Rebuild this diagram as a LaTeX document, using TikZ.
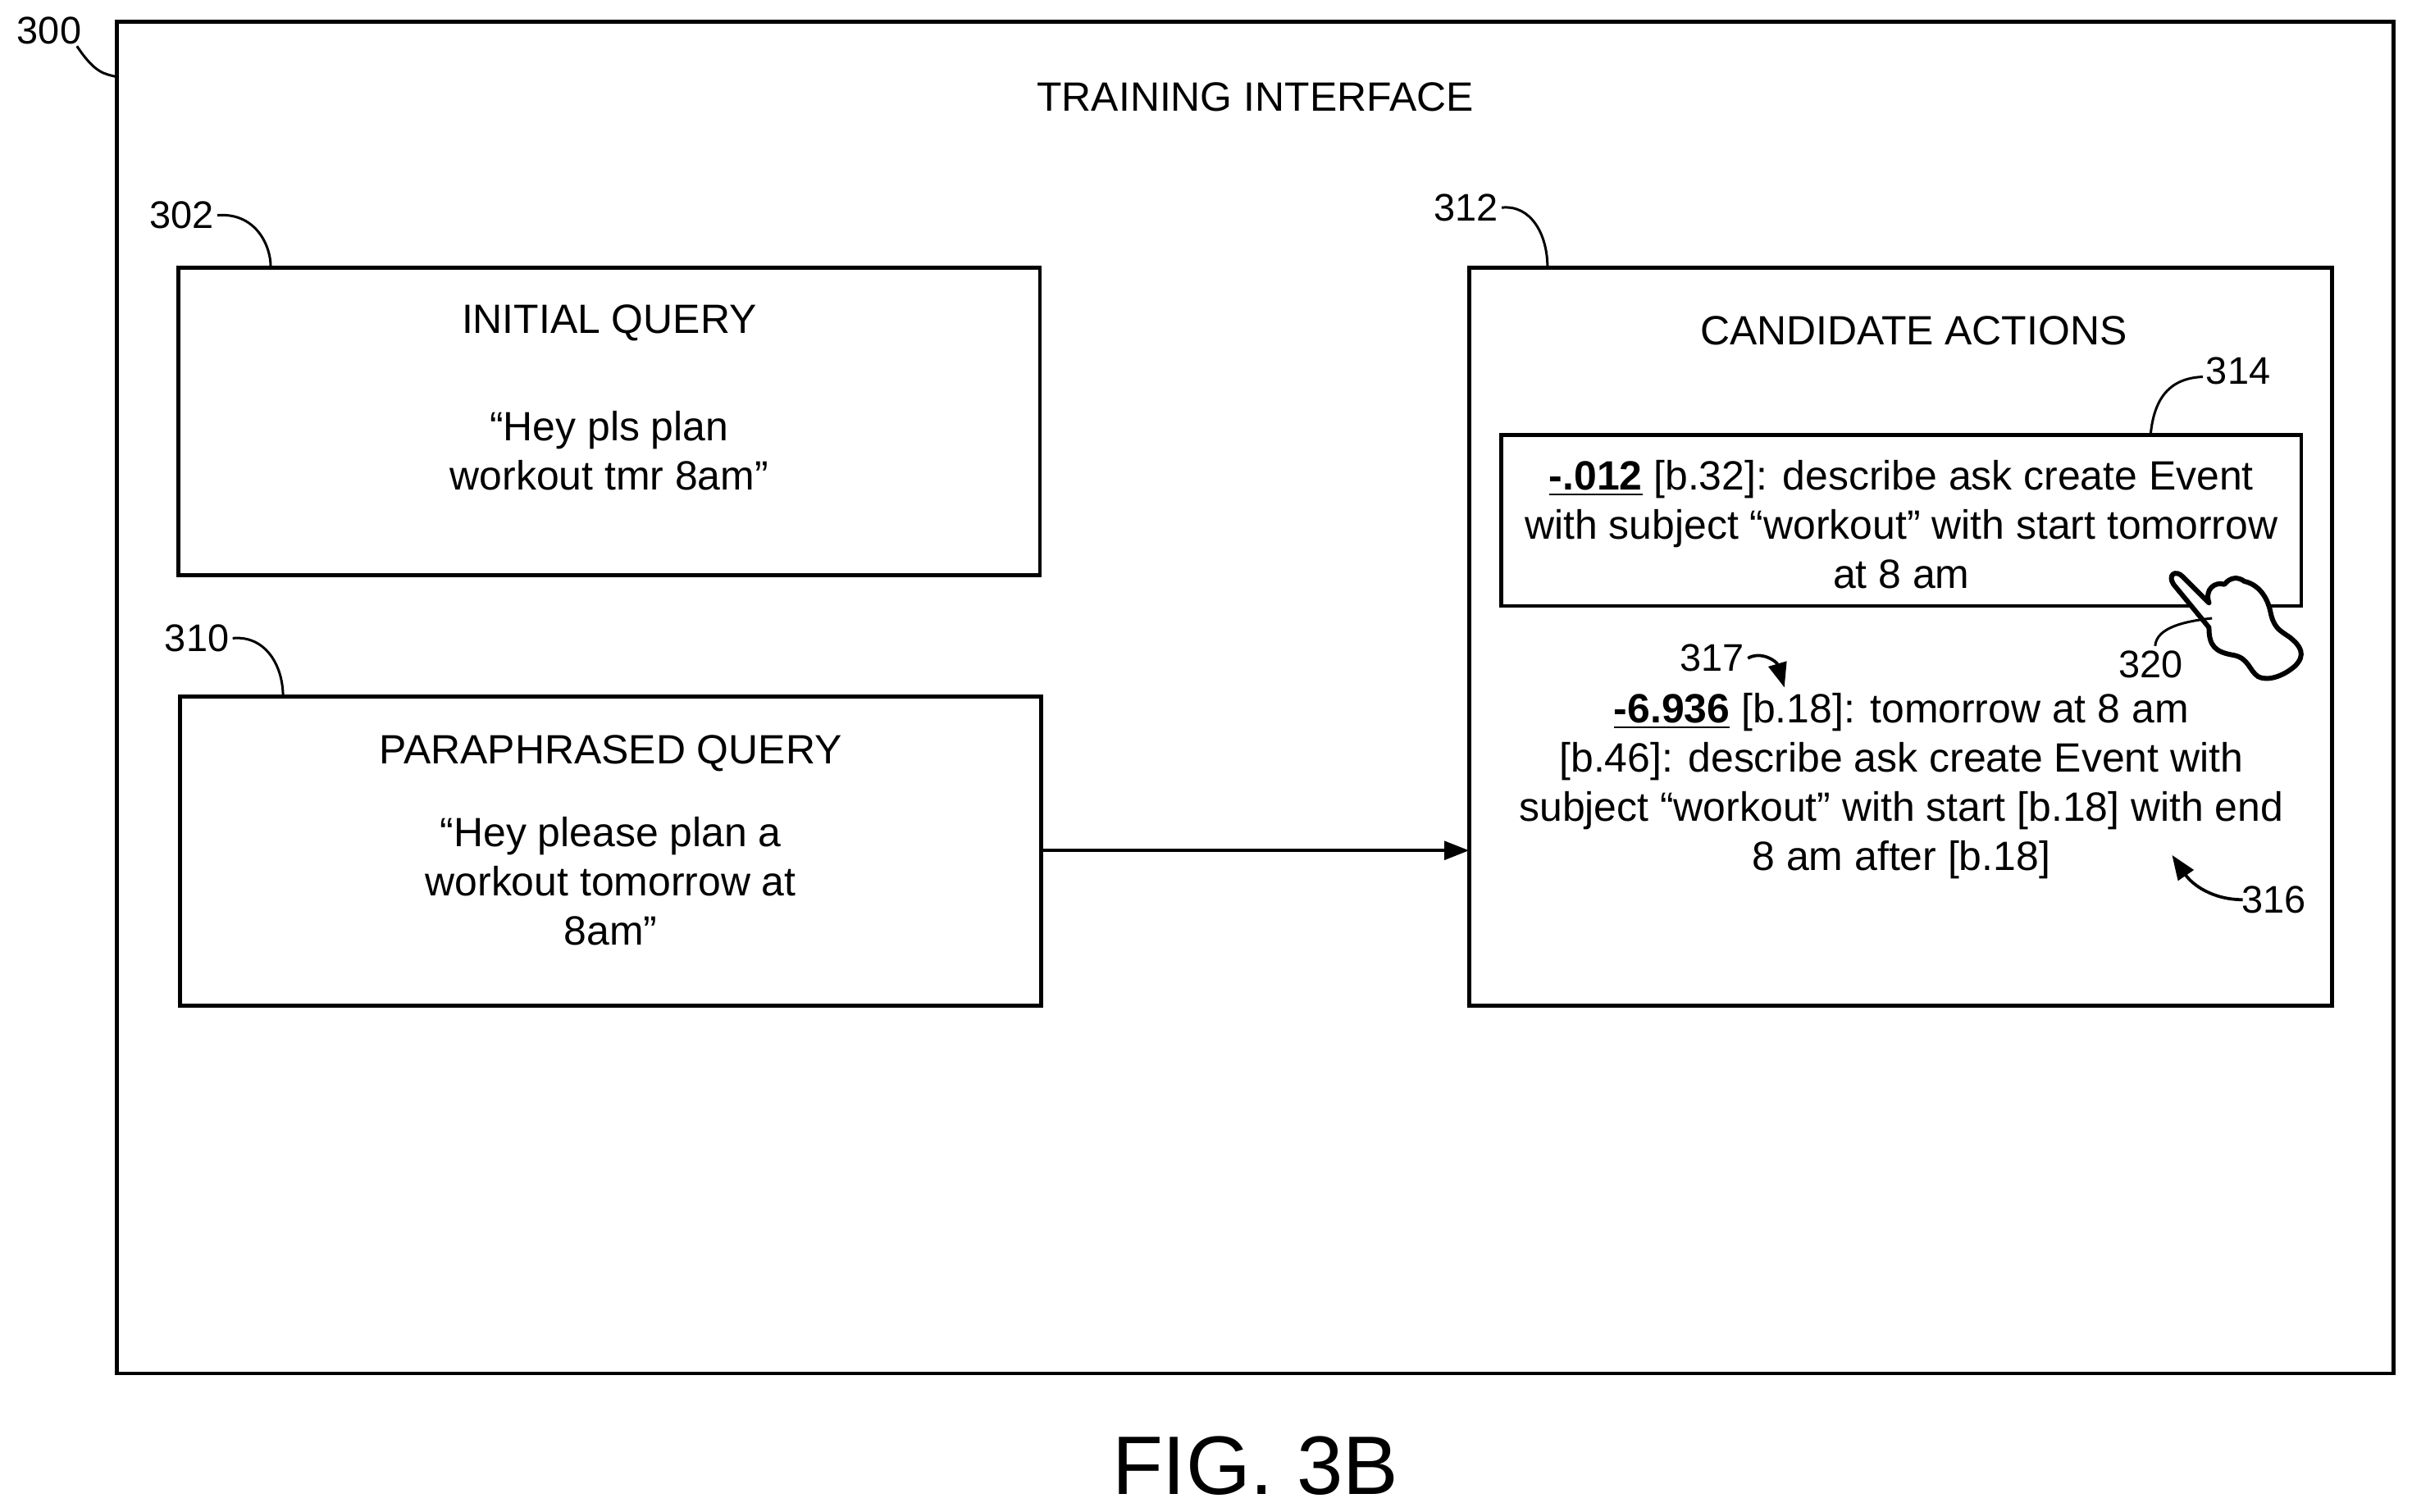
\documentclass[tikz,border=0pt]{standalone}
\usepackage{fontspec}
\setmainfont{Liberation Sans}
\usetikzlibrary{arrows.meta}
\begin{document}
\begin{tikzpicture}[x=0.5pt,y=-0.5pt,
  box/.style={draw,line width=1.3pt},
  txt/.style={font=\fontsize{13.3}{16}\selectfont,align=center,inner sep=0pt},
  lab/.style={font=\fontsize{12.5}{14}\selectfont,inner sep=1pt},
  lead/.style={line width=0.8pt},
  arr/.style={line width=1pt,-{Triangle[length=8pt,width=6pt]}}]
\useasboundingbox (0,0) rectangle (1568,983);
\draw[box] (76,14) rectangle (1556,893);
\node[txt] (title) at (816,63) {TRAINING INTERFACE};
\node[lab] (l300) at (32,20) {300};
\draw[lead] (50,30) .. controls (62,48) and (68,48) .. (76,50);
% initial query
\draw[box] (116,174) rectangle (676,374);
\coordinate (iqtop) at (176,174);
\node[txt] (iqt) at (396,210) {INITIAL QUERY};
\node[txt] (iqx) at (396,293) {“Hey pls plan\\workout tmr 8am”};
\node[lab] (l302) at (118,140) {302};
\draw[lead] (l302.east) .. controls (165,138) and (176,158) .. (iqtop);
% paraphrased
\draw[box] (117,453) rectangle (677,654);
\coordinate (pqtop) at (184,453);
\node[txt] (pqt) at (397,490) {PARAPHRASED QUERY};
\node[txt] (pqx) at (397,573) {“Hey please plan a\\workout tomorrow at\\8am”};
\node[lab] (l310) at (128,415) {310};
\draw[lead] (l310.east) .. controls (172,413) and (184,432) .. (pqtop);
% candidate
\draw[box] (955,174) rectangle (1516,654);
\coordinate (catop) at (1006,174);
\coordinate (pqr) at (677,553);
\coordinate (cal) at (955,553);
\draw[arr] (pqr) -- (cal);
\node[txt] (cat) at (1244,215) {CANDIDATE ACTIONS};
\node[lab] (l312) at (953,135) {312};
\draw[lead] (l312.east) .. controls (995,133) and (1006,152) .. (catop);
\draw[box] (976,283) rectangle (1496,394);
\coordinate (b314) at (1398,283);
\node[txt] (a1) at (1236,341) {\textbf{\underline{-.012}} [b.32]: describe ask create Event\\with subject “workout” with start tomorrow\\at 8 am};
\node[lab] (l314) at (1455,241) {314};
\draw[lead] (1432,245) .. controls (1408,246) and (1400,262) .. (b314);
\node[txt] (a2) at (1236,511) {\textbf{\underline{-6.936}} [b.18]: tomorrow at 8 am\\{[b.46]}: describe ask create Event with\\subject “workout” with start [b.18] with end\\8 am after [b.18]};
\node[lab] (l317) at (1113,428) {317};
\coordinate (t317) at (1160,447);
\draw[arr] (l317.east) .. controls (1145,423) and (1155,430) .. (t317);
\node[lab] (l316) at (1478,585) {316};
\coordinate (t316) at (1412,556);
\draw[arr] (1458,585) .. controls (1438,585) and (1425,575) .. (t316);
% hand
\draw[line width=1.6pt,fill=white,line join=round] (1436,408)
 -- (1413,380) .. controls (1409,374) and (1414,370) .. (1419,375)
 -- (1436,392) .. controls (1433,383) and (1440,378) .. (1446,380)
 .. controls (1450,375) and (1455,375) .. (1459,378)
 .. controls (1468,380) and (1474,388) .. (1476,398)
 .. controls (1478,408) and (1482,410) .. (1488,414)
 .. controls (1496,420) and (1499,426) .. (1492,433)
 .. controls (1484,440) and (1474,443) .. (1468,440)
 .. controls (1462,436) and (1462,428) .. (1452,426)
 .. controls (1440,424) and (1436,420) .. cycle;
\coordinate (hand) at (1438,402);
\node[lab] (l320) at (1398,432) {320};
\draw[lead] (1401,420) .. controls (1402,408) and (1420,404) .. (hand);
\node[font=\fontsize{27}{30}\selectfont,inner sep=0pt] (fig) at (816,953) {FIG. 3B};
\end{tikzpicture}
\end{document}
